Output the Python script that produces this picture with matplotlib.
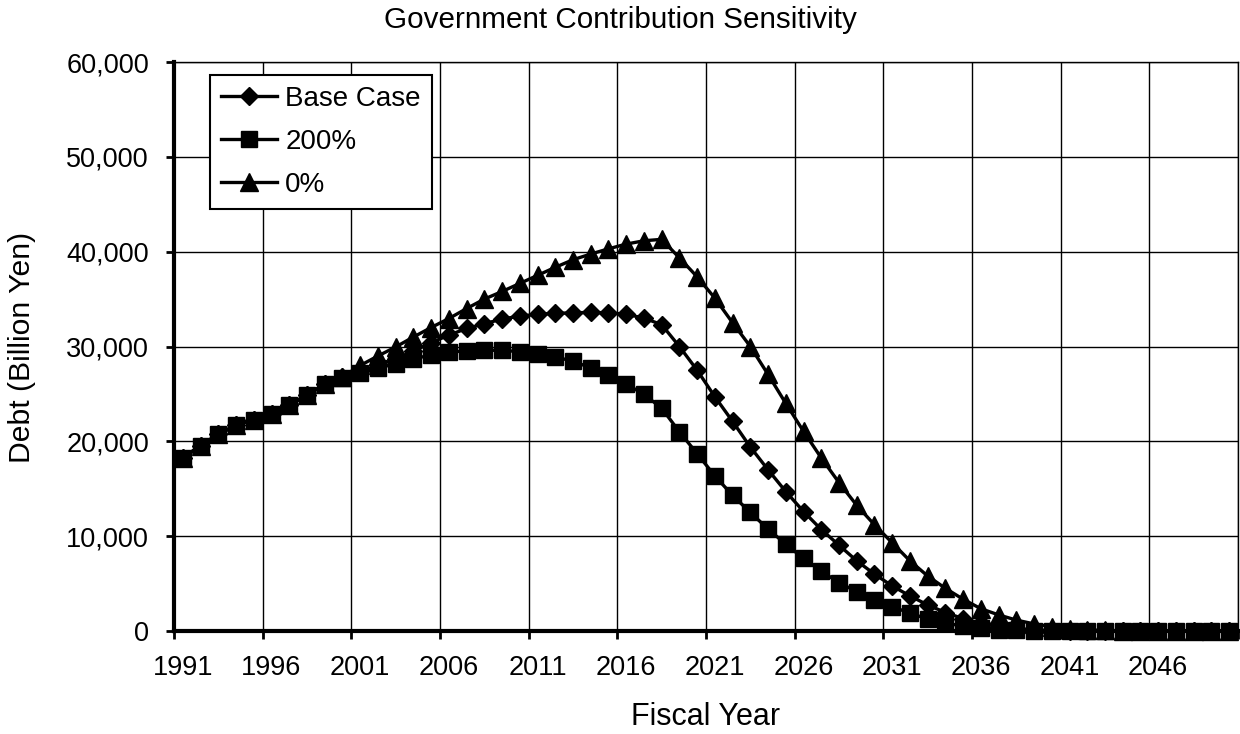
import numpy as np
import matplotlib
matplotlib.use('Agg')
import matplotlib.pyplot as plt
from matplotlib.ticker import FuncFormatter, MultipleLocator, FixedLocator

plt.rcParams['font.family'] = ['Liberation Sans', 'DejaVu Sans']

# data (billion yen), fiscal years 1991..2050
years = list(range(1991, 2051))

base_case = [18250, 19550, 20750, 21700, 22300, 22850, 23800, 24900, 26000, 26750,
             27400, 28000, 28700, 29500, 30400, 31200, 31900, 32400, 32900, 33200,
             33400, 33500, 33550, 33600, 33550, 33400, 33000, 32300, 30000, 27500,
             24700, 22100, 19400, 17000, 14700, 12600, 10700, 9050, 7400, 6000,
             4750, 3700, 2750, 1950, 1300, 800, 450, 250, 120, 60,
             30, 15, 0, 0, 0, 0, 0, 0, 0, 0]

pct_200 = [18250, 19550, 20750, 21700, 22300, 22850, 23800, 24900, 26000, 26700,
           27200, 27700, 28200, 28700, 29100, 29400, 29550, 29600, 29600, 29450,
           29250, 28900, 28450, 27750, 26950, 26050, 24950, 23500, 21000, 18700,
           16350, 14300, 12500, 10750, 9150, 7650, 6300, 5100, 4150, 3250,
           2550, 1900, 1250, 850, 500, 300, 150, 80, 40, 20,
           0, 0, 0, 0, 0, 0, 0, 0, 0, 0]

pct_0 = [18250, 19550, 20750, 21700, 22300, 22850, 23800, 24900, 26000, 26800,
         28000, 29000, 29950, 31000, 32000, 32950, 34000, 35000, 35800, 36650,
         37500, 38350, 39150, 39750, 40300, 40800, 41150, 41300, 39350, 37350,
         35100, 32500, 30000, 27050, 24000, 21050, 18250, 15650, 13250, 11200,
         9300, 7400, 5800, 4500, 3350, 2350, 1700, 1150, 750, 450,
         250, 120, 60, 30, 10, 0, 0, 0, 0, 0]

label_years = years[::5]  # 1991, 1996, ... 2046

fig = plt.figure(figsize=(12.4, 7.34), dpi=100)
ax = fig.add_axes([174/1240, 1 - 631/734, (1238 - 174)/1240, (631 - 62)/734])

# categories sit between tick marks (Excel style)
x = np.arange(len(years)) + 0.5

ax.plot(x, base_case, color='black', lw=2.4, marker='D', ms=9.5, label='Base Case', clip_on=False)
ax.plot(x, pct_200, color='black', lw=2.4, marker='s', ms=11.5, label='200%', clip_on=False)
ax.plot(x, pct_0, color='black', lw=2.4, marker='^', ms=13.5, label='0%', clip_on=False)

ax.set_xlim(0, len(years))
ax.set_ylim(0, 60000)

# major x ticks at category boundaries, labels under category centres
ax.xaxis.set_major_locator(MultipleLocator(5))
ax.xaxis.set_major_formatter(FuncFormatter(lambda v, p: ''))
ax.xaxis.set_minor_locator(FixedLocator([years.index(y) + 0.5 for y in label_years]))
ax.set_xticklabels([str(y) for y in label_years], minor=True)
ax.tick_params(axis='x', which='major', direction='out', length=6, width=2, color='black')
ax.tick_params(axis='x', which='minor', length=0, pad=17, labelsize=19.5)

ax.yaxis.set_major_locator(MultipleLocator(10000))
ax.yaxis.set_major_formatter(FuncFormatter(lambda v, p: f'{int(v):,}'))
ax.tick_params(axis='y', direction='out', length=6, width=2, pad=12, labelsize=19.5)

ax.grid(True, which='major', color='black', lw=1)
ax.set_axisbelow(True)

for s in ['left', 'bottom']:
    ax.spines[s].set_linewidth(3)
for s in ['top', 'right']:
    ax.spines[s].set_linewidth(1)

leg = ax.legend(loc='upper left', bbox_to_anchor=(0.034, 0.977), borderaxespad=0,
                fontsize=20, numpoints=1, handlelength=2.0, handletextpad=0.3,
                labelspacing=0.6, borderpad=0.4, fancybox=False, framealpha=1)
leg.get_frame().set_edgecolor('black')
leg.get_frame().set_linewidth(1.5)

fig.text(0.5, 1 - 20/734, 'Government Contribution Sensitivity', ha='center', va='center', fontsize=21.3)
fig.text((174 + 1238) / 2 / 1240, 1 - 717/734, 'Fiscal Year', ha='center', va='center', fontsize=22)
fig.text(22/1240, 1 - 347/734, 'Debt (Billion Yen)', ha='center', va='center', rotation=90, fontsize=21.7)

fig.savefig('out.png', dpi=100)
